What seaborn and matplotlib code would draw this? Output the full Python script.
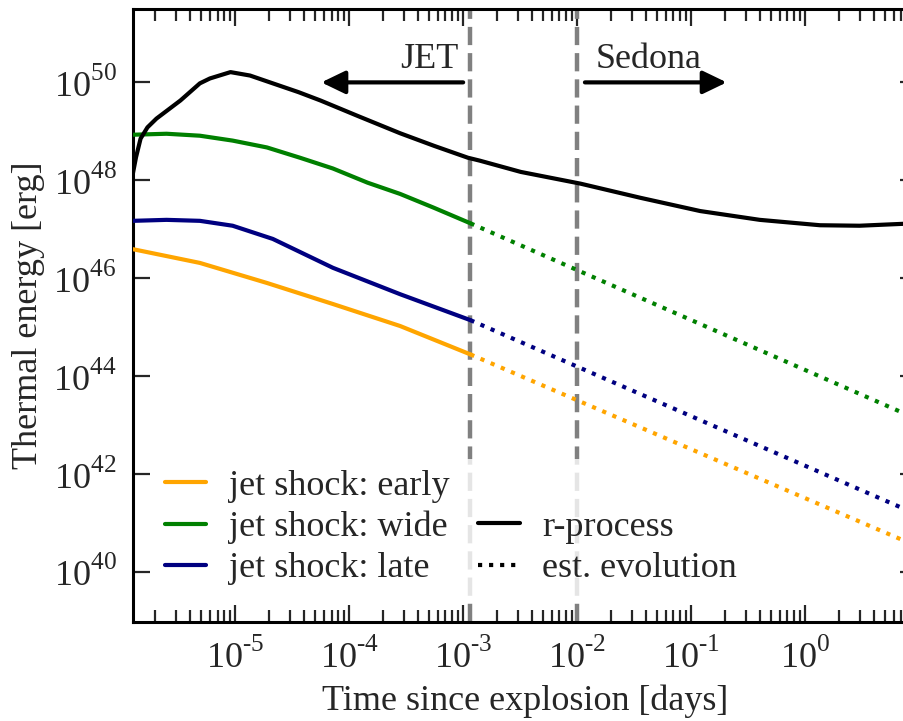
import numpy as np
import pandas as pd
import seaborn as sns
import matplotlib
matplotlib.use("Agg")
import matplotlib.pyplot as plt
from matplotlib.lines import Line2D
from matplotlib.ticker import LogLocator, NullLocator, FuncFormatter

# ---------------- data (time in days, log10 of thermal energy in erg) ----------------
rp_t = [1.24e-6, 1.27e-6, 1.35e-6, 1.48e-6, 1.70e-6, 2.04e-6, 3.31e-6, 4.9e-6, 6.0e-6,
        9.1e-6, 1.35e-5, 2.14e-5, 3.6e-5, 5.6e-5, 1.2e-4, 2.8e-4, 5.6e-4, 1.1e-3, 1.4e-3,
        3.2e-3, 1.07e-2, 3.6e-2, 1.2e-1, 4.0e-1, 1.35, 3.0, 7.4, 10.0]
rp_loge = [47.9, 48.15, 48.47, 48.85, 49.08, 49.26, 49.63, 49.98, 50.08,
           50.21, 50.14, 49.98, 49.80, 49.63, 49.31, 48.96, 48.70, 48.46, 48.40,
           48.17, 47.93, 47.64, 47.37, 47.19, 47.08, 47.07, 47.11, 47.12]

wide_t = [1.27e-6, 2.5e-6, 4.9e-6, 9.5e-6, 1.9e-5, 3.7e-5, 7.2e-5, 1.45e-4, 2.8e-4, 5.5e-4, 1.157e-3]
wide_loge = [48.93, 48.95, 48.91, 48.81, 48.67, 48.46, 48.24, 47.95, 47.72, 47.44, 47.12]

late_t = [1.27e-6, 2.5e-6, 4.9e-6, 9.5e-6, 2.14e-5, 7.2e-5, 2.8e-4, 1.157e-3]
late_loge = [47.17, 47.19, 47.17, 47.07, 46.80, 46.21, 45.67, 45.14]

early_t = [1.27e-6, 4.9e-6, 1.9e-5, 7.2e-5, 2.8e-4, 1.157e-3]
early_loge = [46.59, 46.31, 45.90, 45.47, 45.02, 44.44]

# estimated (power-law) evolution after the end of the JET simulation
est_t = [1.157e-3, 10.0]
est_wide_loge = [47.12, 43.10]
est_late_loge = [45.14, 41.15]
est_early_loge = [44.44, 40.50]

x_ticks = [1e-5, 1e-4, 1e-3, 1e-2, 1e-1, 1e0]
y_ticks = [1e40, 1e42, 1e44, 1e46, 1e48, 1e50]
vlines_t = [1.157e-3, 1.0e-2]

labels = ["jet shock: early", "jet shock: wide", "jet shock: late", "", "r-process", "est. evolution"]
c_early, c_wide, c_late, c_rp = "#FFA500", "#008000", "#000080", "black"

# ---------------- style ----------------
sns.set_style("ticks")
plt.rcParams["font.family"] = ["Liberation Serif", "DejaVu Serif"]
plt.rcParams["mathtext.fontset"] = "custom"
plt.rcParams["mathtext.rm"] = "Liberation Serif"
plt.rcParams["mathtext.it"] = "Liberation Serif:italic"
plt.rcParams["mathtext.bf"] = "Liberation Serif:bold"
plt.rcParams["axes.unicode_minus"] = False
try:  # raise superscripts a little, as in the reference typesetting
    import matplotlib._mathtext as _mt
    _mt.FontConstantsBase.sup1 = 0.95
except Exception:
    pass

FS = 26
W, H = 904, 721
fig = plt.figure(figsize=(W / 100, H / 100), dpi=100)
ax_left, ax_right, ax_top, ax_bot = 133, 916.6, 9, 622
ax = fig.add_axes([ax_left / W, (H - ax_bot) / H, (ax_right - ax_left) / W, (ax_bot - ax_top) / H])
ax.set_xscale("log")
ax.set_yscale("log")
ax.set_xlim(1.27e-6, 9.5)
ax.set_ylim(10 ** 38.97, 10 ** 51.5)

for tv in vlines_t:
    ax.axvline(tv, color="#808080", lw=3.2, linestyle=(0, (4.1, 1.8)), zorder=1)

lw = 3.0
def draw(t, loge, color, ls="-", z=3):
    sns.lineplot(x=np.array(t), y=10.0 ** np.array(loge), ax=ax, color=color, lw=lw,
                 linestyle=ls, sort=False, estimator=None, legend=False, zorder=z)

draw(early_t, early_loge, c_early)
draw(wide_t, wide_loge, c_wide)
draw(late_t, late_loge, c_late)
draw(est_t, est_early_loge, c_early, ":", 6)
draw(est_t, est_wide_loge, c_wide, ":", 6)
draw(est_t, est_late_loge, c_late, ":", 6)
draw(rp_t, rp_loge, c_rp)

# arrows and annotations
arrow_style = "-|>,head_length=14.5,head_width=7"
ax.annotate("", xy=(5.7e-5, 1e50), xytext=(1.0e-3, 1e50),
            arrowprops=dict(arrowstyle=arrow_style, lw=3, color="k", mutation_scale=1,
                            shrinkA=0, shrinkB=0))
ax.annotate("", xy=(0.205, 1e50), xytext=(1.17e-2, 1e50),
            arrowprops=dict(arrowstyle=arrow_style, lw=3, color="k", mutation_scale=1,
                            shrinkA=0, shrinkB=0))
ax.text(9.0e-4, 10 ** 50.29, "JET", fontsize=FS, ha="right", va="baseline")
ax.text(1.44e-2, 10 ** 50.29, "Sedona", fontsize=FS, ha="left", va="baseline")

def sci(v, pos):
    e = int(round(np.log10(v)))
    es = ("\\text{-}%d" % (-e)) if e < 0 else "%d" % e
    return r"$\mathdefault{10^{%s}}$" % es

# axes, ticks
ax.set_xticks(x_ticks)
ax.xaxis.set_major_formatter(FuncFormatter(sci))
ax.xaxis.set_minor_locator(LogLocator(base=10, subs=np.arange(2, 10), numticks=30))
ax.set_yticks(y_ticks)
ax.yaxis.set_major_formatter(FuncFormatter(sci))
ax.yaxis.set_minor_locator(NullLocator())
ax.tick_params(which="major", direction="in", length=12, width=1.6, top=True, right=True,
               labelsize=FS)
ax.tick_params(axis="x", which="major", pad=12)
ax.tick_params(axis="y", which="major", pad=12)
ax.tick_params(which="minor", direction="in", length=8.5, width=1.6, top=True, bottom=True)
for s in ax.spines.values():
    s.set_linewidth(2.2)
    s.set_color("black")

ax.set_xlabel("Time since explosion [days]", fontsize=FS, labelpad=6)
ax.set_ylabel("Thermal energy [erg]", fontsize=FS, labelpad=6)

handles = [Line2D([], [], color=c_early, lw=lw), Line2D([], [], color=c_wide, lw=lw),
           Line2D([], [], color=c_late, lw=lw), Line2D([], [], color="none", lw=0),
           Line2D([], [], color="k", lw=lw), Line2D([], [], color="k", lw=lw, linestyle=":")]
leg = ax.legend(handles, labels, ncol=2, loc="upper left", bbox_to_anchor=(0.0265, 0.2665),
                borderaxespad=0, borderpad=0.3, fontsize=FS, handlelength=1.15,
                handletextpad=0.62, columnspacing=0.8, labelspacing=0.22, frameon=True,
                framealpha=0.8, edgecolor="none", fancybox=False)
leg.set_zorder(5)

fig.savefig("out.png", dpi=100)
